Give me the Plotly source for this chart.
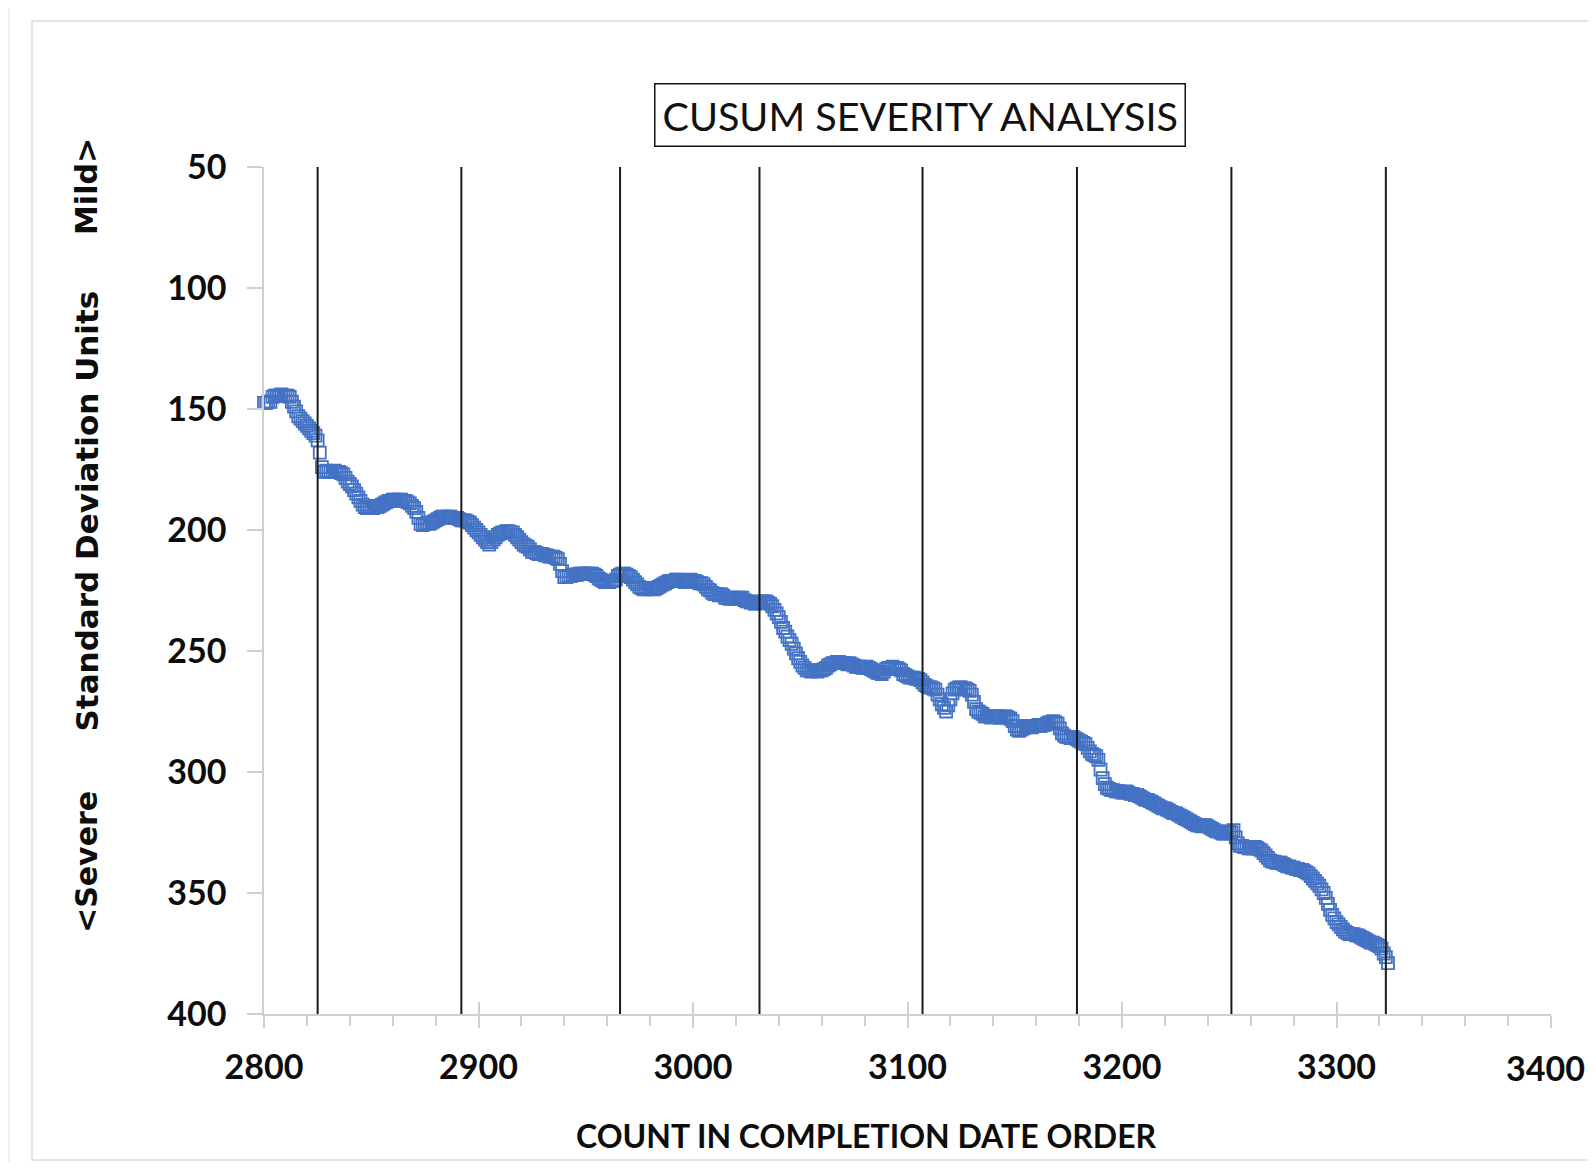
import plotly.graph_objects as go

# CUSUM values, one per count starting at 2800
cusum = [
    147.5, 147.5, 147, 147, 145, 144.5, 144.5, 144.5, 144, 144.5,
    144.5, 144.5, 145, 147, 149, 151, 153, 154, 155, 156,
    157, 158, 159, 160, 161, 163, 168, 174, 176, 175.5,
    176, 176, 176, 175.5, 176, 176, 176.5, 177, 178.5, 180,
    181, 182, 183.5, 185, 186.5, 188, 189.5, 190.5, 191, 190.5,
    190.5, 191, 190, 190.5, 190, 189.5, 189, 188.5, 188, 188,
    187.5, 187.5, 188, 187.5, 187.5, 188, 188, 188.5, 189, 190,
    191, 192.5, 195, 197.5, 198, 197.5, 197, 197.5, 197, 196.5,
    196, 195.5, 195, 194.5, 194.5, 195, 194.5, 194.5, 195, 195,
    195, 195.5, 196, 196, 196, 196.5, 197, 198, 199, 200,
    201, 202, 203, 204, 205, 206, 205, 204, 203, 202,
    201.5, 201, 201, 200.5, 200.5, 201, 201, 202, 203, 204,
    205, 206, 206.5, 207, 208, 209, 209, 209.5, 210, 210,
    210, 210.5, 210.5, 211, 211, 211, 211.5, 212, 214, 217,
    219.5, 219.5, 219, 219, 218.5, 218.5, 218.5, 218, 218, 218,
    218, 218, 218, 218, 218.5, 219, 220, 220.5, 221, 221.5,
    221.5, 221.5, 221, 221, 220.5, 219, 218.5, 218, 218, 218.5,
    219, 219.5, 220.5, 221.5, 222.5, 223.5, 224, 224.5, 224, 224.5,
    224, 224, 224.5, 224, 223.5, 223, 222.5, 222, 221.5, 221,
    221, 221, 220.5, 220.5, 221, 221, 221.5, 221, 221, 220.5,
    221, 221, 221.5, 222, 222, 222.5, 223.5, 224.5, 225, 226,
    226.5, 226.5, 227, 226.5, 227, 228, 228, 228.5, 228, 228.5,
    228, 228.5, 228, 228, 229, 229.5, 229.5, 230, 230, 230.5,
    230, 230, 229.5, 229.5, 229.5, 230, 230.5, 231.5, 233, 234.5,
    236, 238, 240.5, 242, 244, 245.5, 247, 249, 251, 253,
    254.5, 256, 257, 258, 258, 258.5, 258, 258, 258.5, 258,
    258, 257.5, 257, 256, 255.5, 255, 255, 254.5, 254.5, 255,
    255, 255, 255.5, 255, 255.5, 256, 256.5, 256.5, 256.5, 257,
    257, 256.5, 257, 257.5, 258, 258.5, 259, 259, 259.5, 258.5,
    257.5, 257, 257, 256.5, 257, 257, 257.5, 258, 259.5, 260,
    260.5, 261, 261, 261, 261.5, 261.5, 262, 263, 264, 264.5,
    265, 265, 265.5, 266, 268, 270, 272, 273.5, 275, 272.5,
    270, 267.5, 266, 265.5, 265, 265, 265.5, 265.5, 266, 266.5,
    268, 271, 274, 275, 275.5, 276, 277, 277, 277, 277.5,
    277, 277, 277, 277.5, 277.5, 277, 277, 277.5, 278, 279,
    281, 282.5, 283, 282.5, 282, 281.5, 281, 281, 281.5, 281,
    281, 280.5, 281, 280.5, 280.5, 280, 279.5, 279.5, 279, 279.5,
    280, 282, 284, 285, 285.5, 285.5, 286, 285.5, 286, 286.5,
    287, 287.5, 288, 288.5, 290, 291.5, 292.5, 293, 293.5, 295,
    299, 302.5, 305, 306.5, 307, 307.5, 307.5, 308, 308, 308,
    308.5, 308.5, 308, 308.5, 309, 309, 309.5, 309.5, 310, 310.5,
    311, 311.5, 311.5, 312, 312.5, 313, 313.5, 314, 314.5, 315,
    315, 315.5, 316, 316.5, 317, 317, 317.5, 318, 318.5, 319,
    319.5, 320, 320.5, 321, 321.5, 322, 322, 322.5, 322, 322,
    322.5, 323, 323.5, 324, 324.5, 324.5, 325, 325.5, 325.5, 325,
    324.5, 325, 324, 327, 329.5, 330.5, 330.5, 331, 331, 331.5,
    331.5, 331.5, 331, 331.5, 332, 332.5, 333.5, 334.5, 335.5, 336.5,
    337, 337, 337.5, 337.5, 337.5, 338, 338.5, 339, 339, 339.5,
    339.5, 340, 340, 340.5, 340.5, 341, 341.5, 342, 343, 344,
    345, 346, 347, 348.5, 350, 352, 354.5, 357, 359, 360.5,
    362, 363, 364, 365, 366, 366.5, 367, 367, 367, 367.5,
    367.5, 368, 368.5, 369, 369.5, 370, 370.5, 370.5, 371, 371.5,
    372, 373, 375, 376.5, 379,
]
counts = list(range(2800, 2800 + len(cusum)))

# vertical period markers
boundaries = [2825, 2892, 2966, 3031, 3107, 3179, 3251, 3323]
line_top, line_bottom = 50, 400

y_ticks = [50, 100, 150, 200, 250, 300, 350, 400]
x_ticks = [2800, 2900, 3000, 3100, 3200, 3300, 3400]
# the last label sits against the right edge, so it is placed as an annotation
x_ticktext = [str(v) for v in x_ticks[:-1]] + [""]

axis_grey = "#d0d0d0"
tick_font = dict(family="Lato", size=34, color="#0d0d0d", weight="bold")

bx, by = [], []
for b in boundaries:
    bx += [b, b, None]
    by += [line_top, line_bottom, None]

fig = go.Figure()
fig.add_trace(go.Scatter(
    x=counts, y=cusum, mode="markers", cliponaxis=False,
    marker=dict(symbol="square-open", size=12, color="#4472C4", line=dict(width=1.8)),
))
fig.add_trace(go.Scatter(
    x=bx, y=by, mode="lines", xaxis="x2",
    line=dict(color="#1a1a1a", width=2),
))

# page has an 8px body margin all round, so the figure is 16px smaller than the window
fig.update_layout(
    width=1580, height=1154,
    margin=dict(l=256, r=37, t=159, b=148, pad=0),
    paper_bgcolor="white", plot_bgcolor="white",
    showlegend=False,
    xaxis=dict(
        range=[2800, 3400], tickvals=x_ticks, ticktext=x_ticktext,
        ticks="outside", ticklen=12,
        tickwidth=1.5, tickcolor=axis_grey, showline=True, linecolor=axis_grey,
        linewidth=1.5, showgrid=False, zeroline=False, tickfont=tick_font,
        ticklabelstandoff=10,
        minor=dict(dtick=20, tick0=2800, ticks="outside", ticklen=10,
                   tickwidth=1.5, tickcolor=axis_grey, showgrid=False),
    ),
    xaxis2=dict(
        range=[2800, 3400], overlaying="x", anchor="y", tickvals=x_ticks,
        ticks="inside", ticklen=12, tickwidth=1.5, tickcolor=axis_grey,
        showticklabels=False, showline=False, showgrid=False, zeroline=False,
    ),
    yaxis=dict(
        range=[400, 50], tickvals=y_ticks, ticks="outside", ticklen=15,
        tickwidth=1.5, tickcolor=axis_grey, showline=True, linecolor=axis_grey,
        linewidth=1.5, showgrid=False, zeroline=False, tickfont=tick_font,
        ticklabelstandoff=14,
    ),
)

# positions below are in reference-image pixels, converted to paper units
def px_x(X):
    return (X - 264) / 1287

def px_y(Y):
    return (1014 - Y) / 847

fig.add_shape(type="rect", xref="paper", yref="paper", layer="below",
              x0=px_x(0), x1=px_x(10), y0=px_y(1170), y1=px_y(0),
              fillcolor="#f2f2f2", line_width=0)
fig.add_shape(type="rect", xref="paper", yref="paper", layer="below",
              x0=px_x(0), x1=px_x(1610), y0=px_y(4), y1=px_y(0),
              fillcolor="#f2f2f2", line_width=0)
fig.add_shape(type="rect", xref="paper", yref="paper", layer="below",
              x0=px_x(32), x1=px_x(1640), y0=px_y(1160), y1=px_y(21),
              fillcolor="rgba(0,0,0,0)", line=dict(color="#dcdcdc", width=1.5))

fig.add_annotation(
    text=str(x_ticks[-1]), xref="paper", yref="paper",
    x=px_x(1587), y=px_y(1067), xanchor="right", yanchor="middle",
    showarrow=False, font=tick_font,
)
fig.add_annotation(
    text="CUSUM SEVERITY ANALYSIS", xref="paper", yref="paper",
    x=px_x(919.5), y=px_y(115.5), xanchor="center", yanchor="middle",
    showarrow=False, font=dict(family="Lato", size=39.5, color="#111111"),
    bordercolor="#111111", borderwidth=1.5, borderpad=7, bgcolor="white",
)
fig.add_annotation(
    text="COUNT IN COMPLETION DATE ORDER", xref="paper", yref="paper",
    x=px_x(866), y=px_y(1135), xanchor="center", yanchor="middle",
    showarrow=False, font=dict(family="Lato", size=32, color="#0d0d0d", weight="bold"),
)
y_title_font = dict(family="DejaVu Sans", size=30, color="#0d0d0d", weight="bold")
for txt, Y, size in [("&lt;Severe", 862.5, 30), ("Standard Deviation Units", 511, 31),
                     ("Mild&gt;", 186.5, 30)]:
    fig.add_annotation(
        text=txt, xref="paper", yref="paper", x=px_x(86.5), y=px_y(Y),
        xanchor="center", yanchor="middle", textangle=-90,
        showarrow=False, font=dict(y_title_font, size=size),
    )

fig.write_html("out.html")
